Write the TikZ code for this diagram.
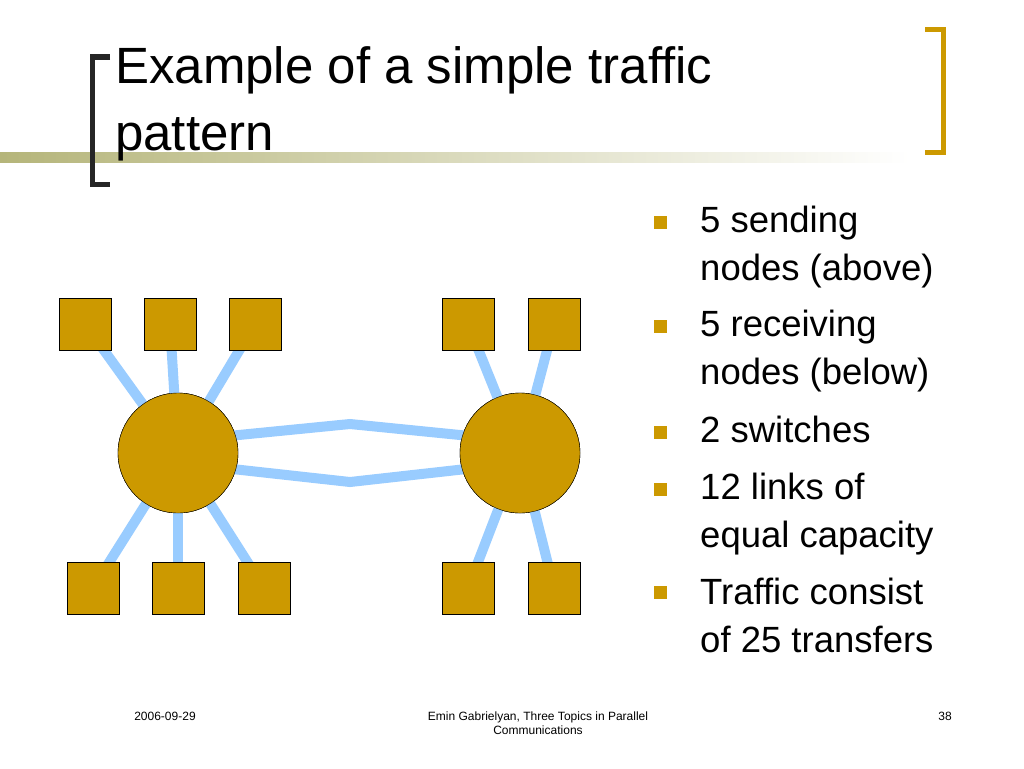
\documentclass[tikz,border=0pt]{standalone}
\usepackage{fontspec}
\setmainfont{Liberation Sans}
\begin{document}
\begin{tikzpicture}[x=1pt,y=-1pt,
  sq/.style={draw=black,fill=gold,minimum size=52pt,inner sep=0pt},
  sw/.style={draw=black,fill=gold,circle,minimum size=120pt,inner sep=0pt},
  lnk/.style={draw=lblue,line width=10pt},
  txt/.style={anchor=base west,font=\fontsize{36.5}{36}\selectfont,inner sep=0pt},
  bul/.style={fill=gold,minimum size=13pt,inner sep=0pt},
  foot/.style={font=\fontsize{12}{14}\selectfont,align=center}]
\definecolor{gold}{HTML}{CC9900}
\definecolor{lblue}{HTML}{99CCFF}
\definecolor{olive}{HTML}{B5B57A}
\useasboundingbox (0,0) rectangle (1024,768);
\fill[white] (0,0) rectangle (1024,768);
% title bar
\shade[left color=olive,right color=white] (0,152) rectangle (910,162);
\draw[line width=5pt,black!85] (110,57) -- (92,57) -- (92,184) -- (110,184);
\draw[line width=5pt,gold] (925,30) -- (943,30) -- (943,152) -- (925,152);
\node[anchor=base west,inner sep=0pt,font=\fontsize{51}{51}\selectfont] (t1) at (115,83) {Example of a simple traffic};
\node[anchor=base west,inner sep=0pt,font=\fontsize{51}{51}\selectfont] (t2) at (115,150) {pattern};
% nodes
\node[sw] (L) at (178,453) {};
\node[sw] (R) at (520,453) {};
\coordinate (mt) at (350,424);
\coordinate (mb) at (350,482);
\coordinate (Lt) at (178,441);
\coordinate (Rt) at (520,441);
\coordinate (Lb) at (178,463);
\coordinate (Rb) at (520,463);
\node[sq] (a1) at (85,324) {};
\node[sq] (a2) at (170,324) {};
\node[sq] (a3) at (255,324) {};
\node[sq] (a4) at (468,324) {};
\node[sq] (a5) at (554,324) {};
\node[sq] (b1) at (93,588) {};
\node[sq] (b2) at (178,588) {};
\node[sq] (b3) at (264,588) {};
\node[sq] (b4) at (468,588) {};
\node[sq] (b5) at (554,588) {};
% links (drawn, then nodes redrawn on top)
\foreach \n in {a1,a2,a3,b1,b2,b3} \draw[lnk] (\n.center) -- (L.center);
\foreach \n in {a4,a5,b4,b5} \draw[lnk] (\n.center) -- (R.center);
\draw[lnk] (Lt) -- (mt) -- (Rt);
\draw[lnk] (Lb) -- (mb) -- (Rb);
\node[sw] at (L) {};
\node[sw] at (R) {};
\foreach \p in {{85,324},{170,324},{255,324},{468,324},{554,324},{93,588},{178,588},{264,588},{468,588},{554,588}} \node[sq] at (\p) {};
% bullets
\foreach \y in {222,326,432,489,592} \node[bul] at (660,\y) {};
\node[txt] (l1) at (700,232) {5 sending};
\node[txt] (l2) at (700,280) {nodes (above)};
\node[txt] (l3) at (700,336) {5 receiving};
\node[txt] (l4) at (700,384) {nodes (below)};
\node[txt] (l5) at (700,442) {2 switches};
\node[txt] (l6) at (700,499) {12 links of};
\node[txt] (l7) at (700,547) {equal capacity};
\node[txt] (l8) at (700,604) {Traffic consist};
\node[txt] (l9) at (700,652) {of 25 transfers};
% footer
\node[foot] (f1) at (165,716) {2006-09-29};
\node[foot] (f2) at (538,723) {Emin Gabrielyan, Three Topics in Parallel\\Communications};
\node[foot] (f3) at (945,716) {38};
\end{tikzpicture}
\end{document}
